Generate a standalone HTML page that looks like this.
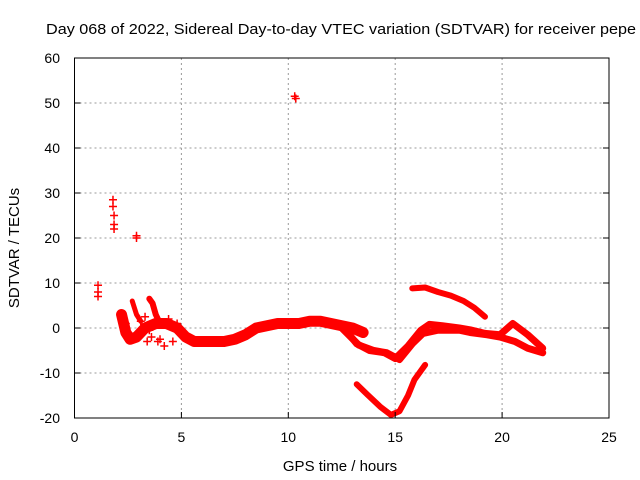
<!DOCTYPE html>
<html><head><meta charset="utf-8"><style>
html,body{margin:0;padding:0;background:#fff;}
svg{display:block;font-family:"Liberation Sans",sans-serif;}
</style></head><body>
<svg id="chart" width="640" height="480">
<text x="46" y="34" font-size="15" textLength="590" lengthAdjust="spacingAndGlyphs">Day 068 of 2022, Sidereal Day-to-day VTEC variation (SDTVAR) for receiver pepe</text>
<g id="grid"></g>
<g id="series"></g>
<rect x="74.5" y="58" width="534.5" height="360" fill="none" stroke="#000" stroke-width="1"/>
<g id="ticks"></g>
<text x="340" y="471" text-anchor="middle" font-size="15">GPS time / hours</text>
<text transform="translate(19,248) rotate(-90)" text-anchor="middle" font-size="15">SDTVAR / TECUs</text>
</svg>
<script>
const xTicks=[0,5,10,15,20,25];
const yTicks=[-20,-10,0,10,20,30,40,50,60];
const bandMainH=[2.2,2.4,2.6,2.9,3.3,3.8,4.3,4.8,5.2,5.6,6,6.5,7,7.5,8,8.5,9,9.5,10,10.5,11,11.5,12,12.5,13,13.5];
const bandMainV=[3,-1,-2.5,-2,0,1,1,0,-2,-3,-3,-3,-3,-2.5,-1.5,0,0.5,1,1,1,1.5,1.5,1,0.5,0,-1];
const bandDipH=[12.6,13.2,13.8,14.5,15,15.6,16.2,16.6,17.2,18,18.5,19.2,19.9,20.5,21.2,21.9];
const bandDipV=[0,-3.5,-5,-5.5,-6.8,-4,-0.5,0.8,0.5,0,-0.4,-1.2,-1.5,1,-1.5,-4.5];
const bandLowH=[12.5,13.3,14,14.6,15.2,15.8,16.3,17,18,18.5,19.3,19.9,20.6,21.2,21.9];
const bandLowV=[0,-3.8,-5,-5.5,-7,-3.5,-1.2,-0.5,-0.5,-1,-1.5,-2,-3,-4.5,-5.5];
const bandHighH=[15.8,16.4,17,17.6,18.2,18.7,19.2];
const bandHighV=[8.8,9,8,7.2,6,4.5,2.5];
const bandVH=[13.2,13.7,14.3,14.8,15.2,15.6,15.9,16.4];
const bandVV=[-12.5,-14.8,-17.5,-19.3,-18.5,-15,-11.5,-8.2];
const bandEarlyH=[3.5,3.65,3.8,3.95,4.2];
const bandEarlyV=[6.5,5.5,3,1.5,0.5];
const bandEarly2H=[2.7,2.8,2.9,3.1];
const bandEarly2V=[6,4.5,3,1.5];
const ptsH=[1.1,1.1,1.1,1.8,1.8,1.85,1.85,1.85,2.9,2.9,10.3,10.35,3.2,3.6,3.9,4.2,2.4,4.6,3.1,3.3,3.5,4.0,4.4,4.8,2.5,3.4];
const ptsV=[9.5,8,7,28.5,27,25,23,22,20.5,20,51.5,51,-1,-2,-3,-4,1,-3,1.5,2.5,-0.5,-2.5,2,1,-1.5,-3];

const X=h=>74.5+h*21.38;
const Y=v=>328-v*4.5;
const NS="http://www.w3.org/2000/svg";
const grid=document.getElementById('grid'),ticks=document.getElementById('ticks'),ser=document.getElementById('series');
function mk(tag,at,par){const e=document.createElementNS(NS,tag);for(const k in at)e.setAttribute(k,at[k]);par.appendChild(e);return e;}
xTicks.forEach(t=>{
 if(t>0&&t<25){const l=mk('line',{x1:X(t),x2:X(t),y1:58,y2:418,stroke:'#999','stroke-dasharray':'2,3'},grid);
 
 }
 mk('line',{x1:X(t),x2:X(t),y1:418,y2:412,stroke:'#000'},ticks);
 const tx=mk('text',{x:X(t),y:442,'text-anchor':'middle','font-size':14},ticks);tx.textContent=t;
 
 
});
yTicks.forEach(t=>{
 if(t>-20&&t<60){const l=mk('line',{x1:74.5,x2:609,y1:Y(t),y2:Y(t),stroke:'#999','stroke-dasharray':'2,3'},grid);
 
 }
 mk('line',{x1:74.5,x2:80.5,y1:Y(t),y2:Y(t),stroke:'#000'},ticks);
 mk('line',{x1:603,x2:609,y1:Y(t),y2:Y(t),stroke:'#000'},ticks);
 const tx=mk('text',{x:60,y:Y(t)+5,'text-anchor':'end','font-size':14},ticks);tx.textContent=t;
 
 
});
function band(H,V,w,name){
 const p=mk('polyline',{points:H.map((h,i)=>X(h)+','+Y(V[i])).join(' '),fill:'none',stroke:'#f00','stroke-width':w,'stroke-linejoin':'round','stroke-linecap':'round'},ser);
 
 
}
band(bandMainH,bandMainV,11,'band-main');
band(bandDipH,bandDipV,7,'band-dip');
band(bandLowH,bandLowV,7,'band-low');
band(bandHighH,bandHighV,6,'band-high');
band(bandVH,bandVV,6,'band-v');
band(bandEarlyH,bandEarlyV,6,'band-early');
band(bandEarly2H,bandEarly2V,5,'band-early2');
ptsH.forEach((h,i)=>{
 const x=X(h),y=Y(ptsV[i]);
 const p=mk('path',{d:`M${x-4},${y}H${x+4}M${x},${y-4}V${y+4}`,stroke:'#f00','stroke-width':1.5},ser);
 
 
});
</script>
</body></html>
